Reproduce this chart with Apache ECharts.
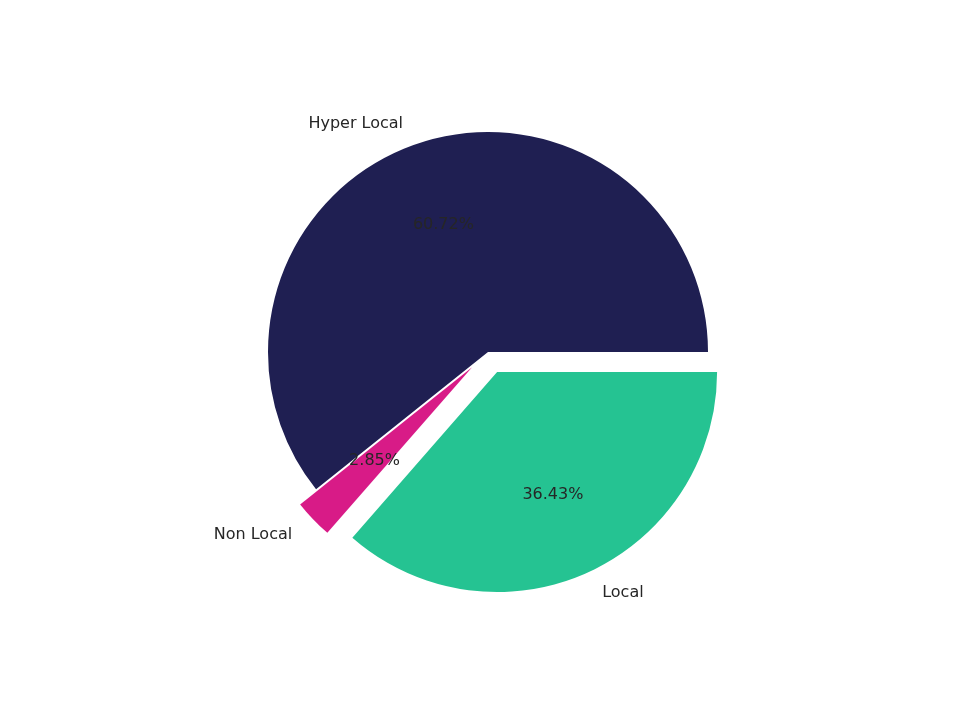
<!DOCTYPE html>
<html>
<head>
<meta charset="utf-8">
<script src="https://cdn.jsdelivr.net/npm/echarts@6/dist/echarts.min.js"></script>
<style>html,body{margin:0;padding:0;background:#fff}#main{width:960px;height:720px}</style>
</head>
<body>
<div id="main"></div>
<script>
const categories = ['Hyper Local', 'Non Local', 'Local']
const values = [60.72, 2.85, 36.43]
const colors = ['#1f1f52', '#d81b87', '#25c392']
const exploded = [false, true, true]

const chart = echarts.init(document.getElementById('main'))
const center = [488, 352]
const base = {
    type: 'pie',
    center: center,
    startAngle: 0,
    clockwise: false,
    selectedMode: 'multiple',
    selectedOffset: 22,
    animation: false,
    emphasis: { disabled: true },
    avoidLabelOverlap: false
}
let option = {
    backgroundColor: '#fff',
    series: [
        Object.assign({}, base, {
            radius: [0, 220],
            label: {
                show: true,
                position: 'outside',
                color: '#262626',
                fontSize: 16,
                fontFamily: 'DejaVu Sans',
                formatter: '{b}'
            },
            labelLine: { show: false, length: 22, length2: 0 },
            data: categories.map((c, i) => ({
                name: c, value: values[i], selected: exploded[i],
                itemStyle: { color: colors[i] }
            }))
        }),
        // 百分比标签
        Object.assign({}, base, {
            radius: [44, 220],
            silent: true,
            label: {
                show: true,
                position: 'inner',
                color: '#262626',
                fontSize: 16,
                fontFamily: 'DejaVu Sans',
                formatter: p => p.value.toFixed(2) + '%'
            },
            labelLine: { show: false },
            data: categories.map((c, i) => ({
                name: c, value: values[i], selected: exploded[i],
                itemStyle: { color: 'rgba(0,0,0,0)' }
            }))
        })
    ]
}
chart.setOption(option, true)
</script>
</body>
</html>
